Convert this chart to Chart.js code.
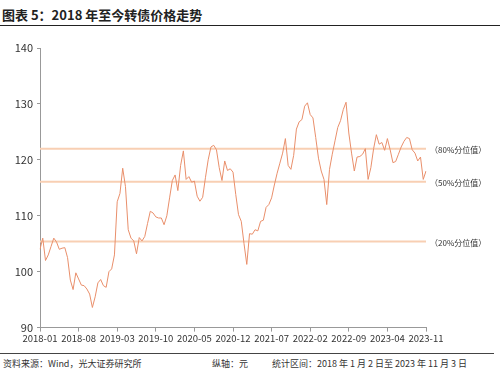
<!DOCTYPE html>
<html>
<head>
<meta charset="utf-8">
<script src="https://cdn.jsdelivr.net/npm/chart.js@4.4.0/dist/chart.umd.min.js"></script>
<style>
  body { margin: 0; width: 500px; height: 373px; background: #fff; position: relative; overflow: hidden;
         font-family: "Noto Sans CJK SC", "Noto Sans", sans-serif; color: #222; }
  #title { position: absolute; left: 2px; top: 5px; font-size: 13px; font-weight: bold; }
  #topline { position: absolute; left: 0; top: 25px; width: 500px; height: 1px; background: #222; }
  #wrap { position: absolute; left: 0; top: 30px; width: 500px; height: 315px; }
  #botline { position: absolute; left: 0; top: 353px; width: 494px; height: 1px; background: #444; }
  .foot { position: absolute; top: 357px; font-size: 9px; color: #333; white-space: nowrap; }
</style>
</head>
<body>
<div id="title">图表 5：2018 年至今转债价格走势</div>
<div id="topline"></div>
<div id="wrap"><canvas id="myChart"></canvas></div>
<div id="botline"></div>
<div class="foot" style="left:3px">资料来源：Wind，光大证券研究所</div>
<div class="foot" style="left:212px">纵轴：元</div>
<div class="foot" style="left:272px">统计区间：2018 年 1 月 2 日至 2023 年 11 月 3 日</div>
<script>
// x tick labels, one every 7 months
const tickLabels = ['2018-01', '2018-08', '2019-03', '2019-10', '2020-05', '2020-12',
                    '2021-07', '2022-02', '2022-09', '2023-04', '2023-11'];

// price, one value every half month (2018-01 .. 2023-11)
const prices = [
  104, 106, 102, 103, 104.5, 106, 105.3, 104, 104.2, 104.3,
  102.5, 98.5, 96.8, 99.8, 98.7, 97.6, 97.5, 96.9, 96, 93.6,
  95.5, 98, 98.6, 97.5, 97.2, 100, 100.5, 103, 112.5, 114,
  118.5, 115.2, 107.5, 106, 105.5, 103.2, 106.1, 105.5, 106.3, 108.6,
  110.8, 110.5, 109.8, 109.6, 109.6, 108.4, 110, 113.2, 116.3, 117.3,
  114.5, 119, 121.6, 116.5, 117, 116, 116.2, 113.5, 112.6, 113.3,
  116.8, 120, 122.3, 122.6, 121.8, 118.6, 116.3, 119.8, 118.1, 118.4,
  117.8, 113.8, 110.2, 109, 105, 101.3, 106.8, 106.7, 107.5, 107.3,
  109, 109.2, 111.5, 112, 113.2, 115.5, 117.6, 119.4, 121.2, 123.8,
  119, 118.3, 120.8, 125.5, 126.8, 127.2, 129.6, 130.2, 128.1, 127.5,
  124, 120.3, 118, 116.5, 112, 118.3, 121, 123.4, 125.8, 127,
  129, 130.3, 124.8, 121.2, 118, 120.5, 120.6, 121, 122, 116.5,
  118.6, 122, 124.5, 122.8, 123.1, 121.7, 123.8, 121.8, 119.5, 119.7,
  121, 122.3, 123.3, 124, 123.8, 121.8, 121.2, 119.8, 120.5, 116.5,
  118
];

// percentile reference lines
const pctValues = [122.0, 116.1, 105.4];
const pctNames = ['（80%分位值）', '（50%分位值）', '（20%分位值）'];

const halfMonths = [];
for (let k = 0; k < prices.length; k++) {
    const m = Math.floor(k / 2);
    const y = 2018 + Math.floor(m / 12);
    const mm = (m % 12) + 1;
    halfMonths.push(y + '-' + (mm < 10 ? '0' + mm : mm));
}

const pctSets = pctValues.map((v, n) => ({
    label: pctNames[n],
    data: prices.map(() => v),
    borderColor: '#f8cfb3',
    borderWidth: 2,
    pointRadius: 0
}));

const pctLabels = {
    id: 'pctLabels',
    afterDatasetsDraw(chart) {
        const c = chart.ctx;
        const ys = chart.scales.y;
        c.save();
        c.font = '8px "Noto Sans CJK SC"';
        c.fillStyle = '#333';
        c.textBaseline = 'middle';
        pctValues.forEach((v, n) => {
            c.fillText(pctNames[n], chart.chartArea.right + 4, ys.getPixelForValue(v) + 1);
        });
        c.restore();
    }
};

const ctx = document.getElementById('myChart');
new Chart(ctx, {
    type: 'line',
    data: {
        labels: halfMonths,
        datasets: [{
            label: '转债价格',
            data: prices,
            borderColor: '#e98f6b',
            borderWidth: 1,
            pointRadius: 0,
            tension: 0
        }].concat(pctSets)
    },
    plugins: [pctLabels],
    options: {
        responsive: true,
        maintainAspectRatio: false,
        animation: false,
        layout: { padding: { top: 18, right: 74, left: 0, bottom: 0 } },
        plugins: {
            legend: { display: false },
            tooltip: { enabled: false }
        },
        scales: {
            x: {
                border: { color: '#999' },
                grid: { drawOnChartArea: false, color: '#999', tickLength: 4 },
                ticks: {
                    autoSkip: false,
                    maxRotation: 0,
                    color: '#333',
                    padding: 1,
                    font: { size: 9.5, family: '"Noto Sans CJK SC"' },
                    callback: function(val, i) {
                        if (i % 14 !== 0) return null;
                        return tickLabels[i / 14];
                    }
                }
            },
            y: {
                min: 90,
                max: 140,
                afterFit: function(s) { s.width = 40; },
                border: { color: '#999' },
                grid: { drawOnChartArea: false, color: '#999', tickLength: 3 },
                ticks: {
                    stepSize: 10,
                    color: '#333',
                    padding: 4,
                    font: { size: 11, family: '"Noto Sans CJK SC"' }
                }
            }
        }
    }
});
</script>
</body>
</html>
